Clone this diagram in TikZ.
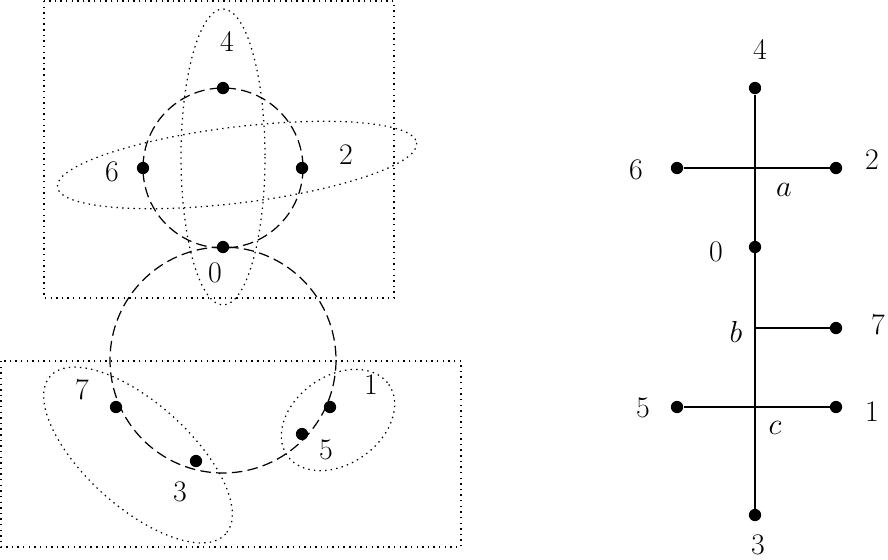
\documentclass[tikz,border=0pt]{standalone}
\begin{document}
\begin{tikzpicture}[x=0.02cm,y=-0.02cm,
  dot/.style={circle,fill,inner sep=0pt,minimum size=7pt},
  lab/.style={font=\fontsize{17}{20}\selectfont},
  dt/.style={dash pattern=on 0.8pt off 2.4pt,line width=0.7pt},
  ds/.style={dash pattern=on 6pt off 3pt,line width=0.7pt}]
\useasboundingbox (0,0) rectangle (888,559);
% left
\draw[dt] (44,1) rectangle (394,298);
\draw[dt] (1,361) rectangle (461,547);
\node[dot] (l4) at (223,88) {};
\node[dot] (l6) at (143,168) {};
\node[dot] (l2) at (302,168) {};
\node[dot] (l0) at (223,247) {};
\node[dot] (l7) at (116,407) {};
\node[dot] (l3) at (196,461) {};
\node[dot] (l5) at (302,434) {};
\node[dot] (l1) at (330,407) {};
\draw[ds] (223,168) circle [radius=80];
\draw[ds] (223,360) ellipse [x radius=113, y radius=113];
\draw[dt] (223,157) ellipse [x radius=42, y radius=148];
\draw[dt, rotate around={7:(237,165)}] (237,165) ellipse [x radius=181, y radius=38];
\draw[dt, rotate around={-42:(138,455)}] (138,455) ellipse [x radius=118, y radius=52];
\draw[dt, rotate around={35:(338,420)}] (338,420) ellipse [x radius=62, y radius=44];
\node[lab] at (227,42) {4};
\node[lab] at (112,172) {6};
\node[lab] at (346,155) {2};
\node[lab] at (215,273) {0};
\node[lab] at (82,390) {7};
\node[lab] at (180,492) {3};
\node[lab] at (326,450) {5};
\node[lab] at (371,385) {1};
% right
\node[dot] (r4) at (755,88) {};
\node[dot] (r0) at (755,247) {};
\node[dot] (r3) at (755,515) {};
\node[dot] (r6) at (677,168) {};
\node[dot] (r2) at (836,168) {};
\node[dot] (r7) at (836,328) {};
\node[dot] (r5) at (677,407) {};
\node[dot] (r1) at (836,407) {};
\coordinate (rb) at (755,328);
\draw[line width=0.7pt] (r4) -- (r3);
\draw[line width=0.7pt] (r6) -- (r2);
\draw[line width=0.7pt] (rb) -- (r7);
\draw[line width=0.7pt] (r5) -- (r1);
\node[lab] at (760,50) {4};
\node[lab] at (636,170) {6};
\node[lab] at (872,160) {2};
\node[lab] at (784,190) {$a$};
\node[lab] at (716,252) {0};
\node[lab] at (736,332) {$b$};
\node[lab] at (878,325) {7};
\node[lab] at (643,408) {5};
\node[lab] at (775,428) {$c$};
\node[lab] at (872,412) {1};
\node[lab] at (758,545) {3};
\end{tikzpicture}
\end{document}
